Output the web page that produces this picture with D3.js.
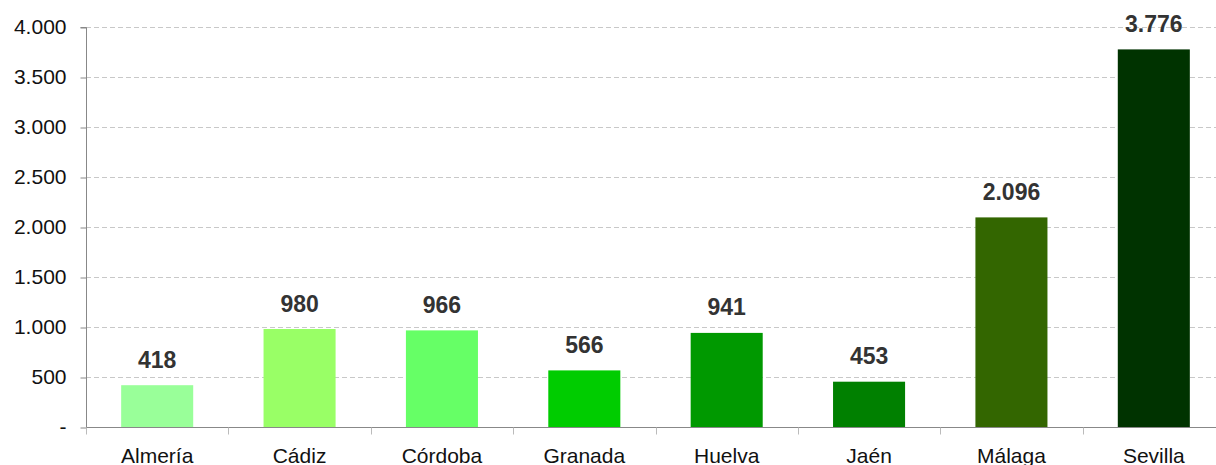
<!DOCTYPE html>
<html><head><meta charset="utf-8">
<script src="https://cdn.jsdelivr.net/npm/d3@7/dist/d3.min.js"></script>
<style>body{margin:0;background:#fff}svg{display:block}</style>
</head><body><svg id="c" width="1216" height="465"></svg>
<script>
const categories = ["Almería","Cádiz","Córdoba","Granada","Huelva","Jaén","Málaga","Sevilla"];
const values = [418, 980, 966, 566, 941, 453, 2096, 3776];
const colors = ["#99FF99","#99FF66","#66FF66","#00CC00","#009900","#008000","#336600","#003300"];
const yTicks = [0, 500, 1000, 1500, 2000, 2500, 3000, 3500, 4000];

(function () {
const svg = d3.select("#c");
const mL = 86, mR = 1225, mT = 27, mB = 427;
const fmt = v => v === 0 ? "-" : d3.format(",")(v).replace(/,/g, ".");

const x = d3.scaleBand().domain(categories).range([mL, mR]).paddingInner(0.494).paddingOuter(0.247);
const y = d3.scaleLinear().domain([0, 4000]).range([mB, mT]);

// gridlines
svg.append("g").selectAll("line").data(yTicks.filter(d => d > 0)).join("line")
  .attr("x1", mL).attr("x2", mR)
  .attr("y1", d => y(d) + 0.5).attr("y2", d => y(d) + 0.5)
  .attr("stroke", "#c8c8c8").attr("stroke-width", 1).attr("stroke-dasharray", "5,3");

// bars
svg.append("g").selectAll("rect").data(categories).join("rect")
  .attr("x", d => x(d)).attr("width", x.bandwidth())
  .attr("y", (d, i) => y(values[i])).attr("height", (d, i) => y(0) - y(values[i]))
  .attr("fill", (d, i) => colors[i]);

// y axis
const yAxis = d3.axisLeft(y).tickValues(yTicks).tickFormat(fmt).tickSize(6).tickPadding(14);
const gy = svg.append("g").attr("transform", `translate(${mL + 0.5},0)`).call(yAxis);
gy.select(".domain").attr("stroke", "#888").attr("d", `M-6,${mT + 0.5}H0V${mB + 0.5}`);
gy.selectAll(".tick line").attr("stroke", "#888").attr("transform", "translate(0,0.5)");
gy.selectAll(".tick text").attr("font-family", "Liberation Sans, Arial, sans-serif")
  .attr("font-size", 21).attr("fill", "#111").attr("dy", "0.3em");

// x axis
const gx = svg.append("g").attr("transform", `translate(0,${mB + 0.5})`);
gx.append("line").attr("x1", mL).attr("x2", mR).attr("stroke", "#888");
const bounds = d3.range(categories.length + 1).map(i => mL + i * x.step());
gx.selectAll("line.t").data(bounds).join("line").attr("class", "t")
  .attr("x1", d => Math.round(d) + 0.5).attr("x2", d => Math.round(d) + 0.5)
  .attr("y1", 0).attr("y2", 7).attr("stroke", "#bbb");
gx.selectAll("text").data(categories).join("text")
  .attr("x", d => x(d) + x.bandwidth() / 2).attr("y", 35)
  .attr("text-anchor", "middle").attr("font-family", "Liberation Sans, Arial, sans-serif")
  .attr("font-size", 21).attr("fill", "#111").text(d => d);

// value labels
svg.append("g").selectAll("text").data(categories).join("text")
  .attr("x", d => x(d) + x.bandwidth() / 2)
  .attr("y", (d, i) => y(values[i]) - 17.5)
  .attr("text-anchor", "middle").attr("font-family", "Liberation Sans, Arial, sans-serif")
  .attr("font-weight", "bold").attr("font-size", 23).attr("fill", "#333")
  .text((d, i) => fmt(values[i]));
})();
</script></body></html>
